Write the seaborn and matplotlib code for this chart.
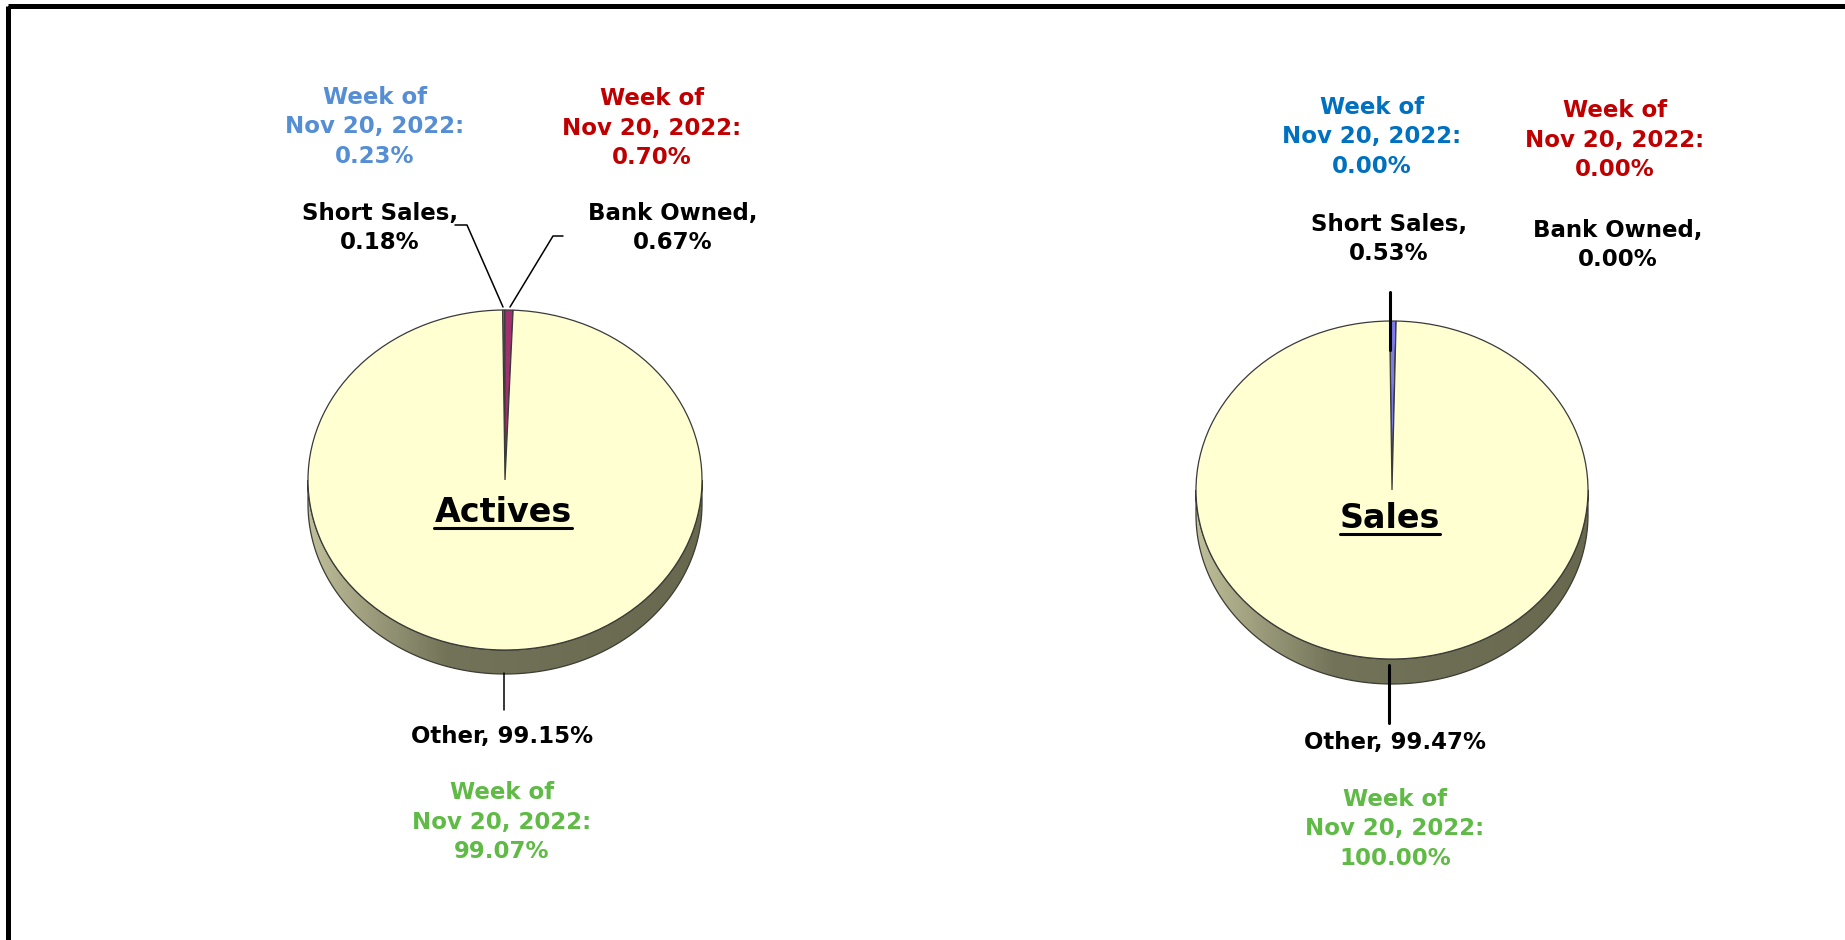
import numpy as np
import matplotlib
matplotlib.use("Agg")
import matplotlib.pyplot as plt
import seaborn as sns
from matplotlib.colors import LinearSegmentedColormap
from matplotlib.patches import Polygon, Rectangle

# ---------------- data ----------------
categories = ["Short Sales", "Bank Owned", "Other"]
actives_pct = [0.18, 0.67, 99.15]
sales_pct = [0.53, 0.00, 99.47]
actives_prev_pct = [0.23, 0.70, 99.07]
sales_prev_pct = [0.00, 0.00, 100.00]
prev_week = "Nov 20, 2022"
chart_titles = ["Actives", "Sales"]

sns.set_theme(style="white")
plt.rcParams['font.family'] = ['DejaVu Sans']

W, H = 1845, 940
fig = plt.figure(figsize=(W / 100, H / 100), dpi=100)
fig.patch.set_facecolor("white")

slice_colors = ["#7B7BEA", "#A0306E", "#FFFFD2"]
side_cmap = LinearSegmentedColormap.from_list(
    "side", [(0, "#BFBF9A"), (0.35, "#737359"), (1.0, "#68684F")])


def draw_pie(cx, cy, rx, ry, depth_px, values, lim=1.3):
    w, h = 2 * lim * rx, 2 * lim * ry
    ax = fig.add_axes([(cx - w / 2) / W, (H - cy - h / 2) / H, w / W, h / H])
    d = depth_px / ry
    t = np.linspace(np.pi, 2 * np.pi, 400)
    top = np.column_stack([np.cos(t), np.sin(t)])
    bot = np.column_stack([np.cos(t[::-1]), np.sin(t[::-1]) - d])
    poly = Polygon(np.vstack([top, bot]), closed=True, facecolor="none",
                   edgecolor="#3c3c34", lw=0.9, zorder=0.6)
    ax.add_patch(poly)
    grad = np.linspace(0, 1, 256)[None, :]
    im = ax.imshow(grad, extent=(-1, 1, -1 - d, 0), cmap=side_cmap,
                   aspect="auto", zorder=0.5)
    im.set_clip_path(poly)
    ax.pie(values, colors=slice_colors, startangle=90.7, counterclock=False,
           wedgeprops=dict(edgecolor="#3a3a3a", linewidth=0.9))
    ax.set_aspect("auto")
    ax.set_xlim(-lim, lim)
    ax.set_ylim(-lim, lim)
    ax.axis("off")
    return ax


draw_pie(505, 480, 197, 170, 24, actives_pct)
draw_pie(1392, 490, 196, 169, 25, sales_pct)

ov = fig.add_axes([0, 0, 1, 1], zorder=10)
ov.set_xlim(0, W)
ov.set_ylim(H, 0)
ov.axis("off")
ov.patch.set_alpha(0)

ov.add_patch(Rectangle((7.5, 5.5), W, H, fill=False, lw=3.6, ec="black"))

FS = 16.5
green = "#5FBA46"
red = "#C00000"


def lab(x, y, s, color="black", fs=FS):
    return ov.text(x, y, s, ha="center", va="center", ma="center",
                   fontsize=fs, fontweight="bold", color=color, linespacing=1.38)


def prev_txt(v):
    return f"Week of\n{prev_week}:\n{v:.2f}%"


# Actives
lab(375, 127, prev_txt(actives_prev_pct[0]), "#558ED5")
lab(652, 128, prev_txt(actives_prev_pct[1]), red)
lab(380, 228, f"{categories[0]},\n{actives_pct[0]:.2f}%")
lab(673, 228, f"{categories[1]},\n{actives_pct[1]:.2f}%")
lab(502, 737, f"{categories[2]}, {actives_pct[2]:.2f}%")
lab(502, 822, prev_txt(actives_prev_pct[2]), green)
t1 = lab(503, 512, chart_titles[0], fs=24)

# Sales
lab(1372, 137, prev_txt(sales_prev_pct[0]), "#0070C0")
lab(1615, 140, prev_txt(sales_prev_pct[1]), red)
lab(1389, 239, f"{categories[0]},\n{sales_pct[0]:.2f}%")
lab(1618, 245, f"{categories[1]},\n{sales_pct[1]:.2f}%")
lab(1395, 743, f"{categories[2]}, {sales_pct[2]:.2f}%")
lab(1395, 829, prev_txt(sales_prev_pct[2]), green)
t2 = lab(1390, 518, chart_titles[1], fs=24)

# leader lines
ov.plot([455, 467, 503], [225, 225, 307], color="black", lw=1.1)
ov.plot([563, 553, 510], [236, 236, 307], color="black", lw=1.1)
ov.plot([504, 504], [673, 710], color="black", lw=1.1)
ov.plot([1390, 1390], [292, 350], color="black", lw=2.2)
ov.plot([1389, 1389], [665, 723], color="black", lw=2.2)

# underline titles
fig.canvas.draw()
inv = ov.transData.inverted()
for t in (t1, t2):
    bb = t.get_window_extent()
    (x0, y0), (x1, y1) = inv.transform([[bb.x0, bb.y0], [bb.x1, bb.y1]])
    ov.plot([x0, x1], [y0 - 1, y0 - 1], color="black", lw=2.2)

fig.savefig("out.png", dpi=100)
